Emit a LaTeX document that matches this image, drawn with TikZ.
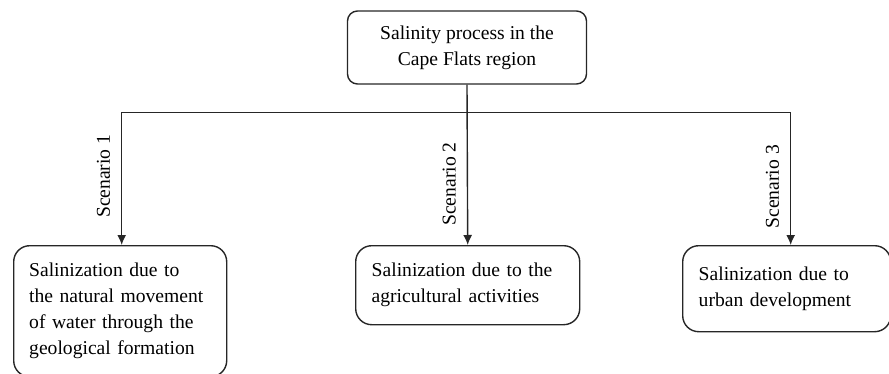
\documentclass[tikz,border=0pt]{standalone}
\usepackage{fontspec}
\setmainfont{Liberation Serif}
\usetikzlibrary{arrows.meta,positioning}

\begin{document}
\begin{tikzpicture}[x=0.5pt,y=-0.5pt,>={Latex[length=5pt,width=4.5pt]},
  box/.style={draw=black!85,line width=0.7pt,rounded corners=8pt,align=left,inner ysep=0pt,font=\fontsize{9.8}{13}\selectfont},
  link/.style={draw=black!85,line width=0.7pt},
  scenario/.style={anchor=south,rotate=90,inner sep=5.5pt,font=\fontsize{9.8}{13}\selectfont}]
  \useasboundingbox (0,0) rectangle (889,374);

  \node[box,align=center,rounded corners=5pt,minimum width=119.5pt,minimum height=36.5pt](salinity) at (467,47.5){Salinity process in the\\Cape Flats region};
  \node[box,anchor=north west,text width=91pt,inner xsep=7.75pt,minimum height=65.5pt](natural) at (13,245){Salinization due to\\the natural movement\\of water through the\\geological formation};
  \node[box,anchor=north west,text width=96pt,inner xsep=8pt,minimum height=39.5pt](agri) at (355,245){Salinization due to the\\agricultural activities};
  \node[box,anchor=north west,text width=88pt,inner xsep=8pt,minimum height=43pt](urban) at (682,245){Salinization due to\\urban development};

  \coordinate[below=14pt of salinity.south](split);

  \draw[link,->] (salinity.south) -- node[scenario,pos=0.62]{Scenario 2} (agri.north);
  \draw[link,->] (split) -| node[scenario,pos=0.74]{Scenario 1} ([xshift=0.75pt]natural.north);
  \draw[link,->] (split) -| node[scenario,pos=0.78]{Scenario 3} ([xshift=2pt]urban.north);
\end{tikzpicture}
\end{document}
